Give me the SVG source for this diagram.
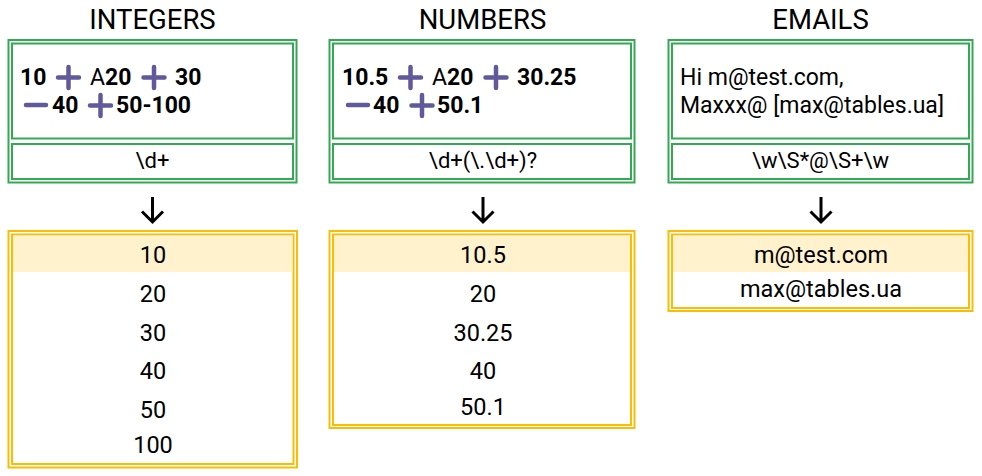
<svg xmlns="http://www.w3.org/2000/svg" width="982" height="476" viewBox="0 0 982 476">
<defs>
<style>
.bg{fill:#ffffff}
.g{fill:none;stroke:#34a853;stroke-width:2}
.y{fill:none;stroke:#fbbc04;stroke-width:2}
.hl{fill:#fff2cc}
.title{font-family:Roboto,"Liberation Sans",sans-serif;font-size:27.5px;fill:#000;text-anchor:middle}
.src{font-family:Roboto,"Liberation Sans",sans-serif;font-size:23px;fill:#000}
.b{font-weight:bold}
.pat{font-family:Roboto,"Liberation Sans",sans-serif;font-size:22px;fill:#000;text-anchor:middle}
.res{font-family:Roboto,"Liberation Sans",sans-serif;font-size:23.5px;fill:#000;text-anchor:middle}
.op{fill:none;stroke:#605a9c;stroke-width:4.5;stroke-linecap:round}
.arr{fill:none;stroke:#000;stroke-width:3;stroke-linecap:butt;stroke-linejoin:miter}
</style>
</defs>
<rect class="bg" x="0" y="0" width="982" height="476"/>

<g id="integers">
<text class="title" x="152.5" y="29">INTEGERS</text>
<rect class="g" x="8.5" y="40" width="288" height="142.5"/>
<rect class="g" x="12" y="43.5" width="281" height="95"/>
<rect class="g" x="12" y="144" width="281" height="35"/>
<text class="src b" x="20" y="85">10</text>
<path class="op" d="M58 77.5H79M68.5 67V88"/>
<text class="src" x="90" y="85">A<tspan class="b">20</tspan></text>
<path class="op" d="M143.5 77.5H164.5M154 67V88"/>
<text class="src b" x="175" y="85">30</text>
<path class="op" d="M26 105H46"/>
<text class="src b" x="52" y="113">40</text>
<path class="op" d="M90 105.5H111M100.5 95V116"/>
<text class="src b" x="116" y="113">50-100</text>
<text class="pat" x="152.5" y="168">\d+</text>
<rect class="y" x="8.5" y="231" width="288.5" height="236.5"/>
<rect class="y" x="12" y="234.5" width="281.5" height="229.5"/>
<rect class="hl" x="13" y="235.5" width="279.5" height="36.5"/>
<text class="res" x="153" y="263">10</text>
<text class="res" x="153" y="302">20</text>
<text class="res" x="153" y="341">30</text>
<text class="res" x="153" y="379">40</text>
<text class="res" x="153" y="418">50</text>
<text class="res" x="153" y="453">100</text>
</g>

<g id="numbers">
<text class="title" x="482.5" y="29">NUMBERS</text>
<rect class="g" x="329.5" y="40" width="305" height="142.5"/>
<rect class="g" x="333" y="43.5" width="298" height="95"/>
<rect class="g" x="333" y="144" width="298" height="35"/>
<text class="src b" x="342" y="85">10.5</text>
<path class="op" d="M400 77.5H421M410.5 67V88"/>
<text class="src" x="432" y="85">A<tspan class="b">20</tspan></text>
<path class="op" d="M485.5 77.5H506.5M496 67V88"/>
<text class="src b" x="517" y="85">30.25</text>
<path class="op" d="M348 105H368"/>
<text class="src b" x="373" y="113">40</text>
<path class="op" d="M411.5 105.5H432.5M422 95V116"/>
<text class="src b" x="437" y="113">50.1</text>
<text class="pat" x="483" y="168">\d+(\.\d+)?</text>
<rect class="y" x="329.5" y="231" width="305" height="197"/>
<rect class="y" x="333" y="234.5" width="298" height="190.5"/>
<rect class="hl" x="334" y="235.5" width="296" height="36.5"/>
<text class="res" x="483" y="263">10.5</text>
<text class="res" x="483" y="302">20</text>
<text class="res" x="483" y="341">30.25</text>
<text class="res" x="483" y="379">40</text>
<text class="res" x="483" y="415">50.1</text>
</g>

<g id="emails">
<text class="title" x="820.5" y="29">EMAILS</text>
<rect class="g" x="668.5" y="40" width="304" height="142.5"/>
<rect class="g" x="672" y="43.5" width="297" height="95"/>
<rect class="g" x="672" y="144" width="297" height="35"/>
<text class="src" x="680" y="85">Hi m@test.com,</text>
<text class="src" x="680" y="113">Maxxx@ [max@tables.ua]</text>
<text class="pat" x="820.5" y="168">\w\S*@\S+\w</text>
<rect class="y" x="668.5" y="231" width="304" height="80"/>
<rect class="y" x="672" y="234.5" width="297" height="73.5"/>
<rect class="hl" x="673" y="235.5" width="295" height="36.5"/>
<text class="res" x="821" y="263">m@test.com</text>
<text class="res" x="821" y="297">max@tables.ua</text>
</g>

<g id="connectors">
<path class="arr" d="M152.5 197V222M142 211.5L152.5 222L163 211.5"/>
<path class="arr" d="M483 197V222M472.5 211.5L483 222L493.5 211.5"/>
<path class="arr" d="M821 197V222M810.5 211.5L821 222L831.5 211.5"/>
</g>
</svg>
